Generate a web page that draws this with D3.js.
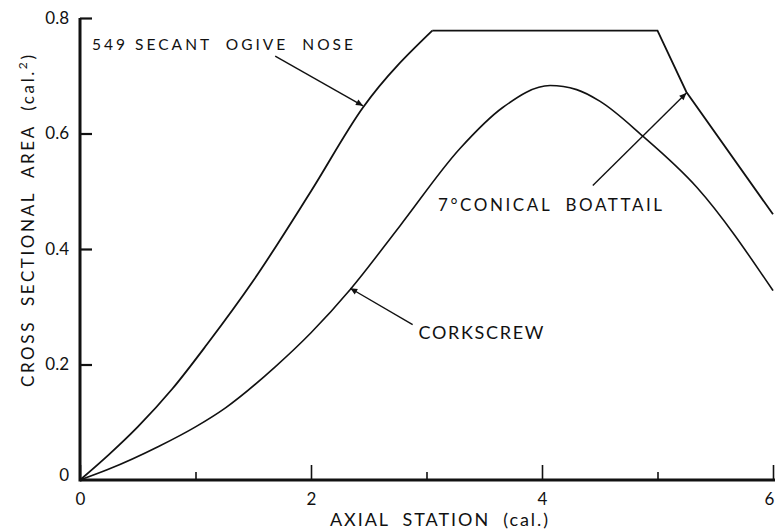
<!DOCTYPE html>
<html>
<head>
<meta charset="utf-8">
<script src="https://cdn.jsdelivr.net/npm/d3@7"></script>
<style>
  html, body { margin: 0; padding: 0; background: #fff; }
  svg text { font-family: Lato, "Open Sans", sans-serif; fill: #111; }
</style>
</head>
<body>
<svg id="chart" width="775" height="530"></svg>
<script>
// ---- data ----
const noseX = [0, 0.25, 0.5, 0.8, 1.1, 1.5, 2.0, 2.45, 3.05];
const noseY = [0, 0.044, 0.092, 0.158, 0.235, 0.345, 0.50, 0.645, 0.778];
const noseAftX = [3.05, 5.0, 5.25, 6.0];
const noseAftY = [0.778, 0.778, 0.672, 0.46];
const corkX = [0, 0.24, 0.68, 1.0, 1.26, 1.69, 2.0, 2.34, 2.77, 3.29, 3.66, 4.07, 4.3, 4.5, 4.87, 5.34, 6.0];
const corkY = [0, 0.018, 0.058, 0.092, 0.125, 0.196, 0.255, 0.33, 0.44, 0.574, 0.645, 0.683, 0.676, 0.656, 0.596, 0.507, 0.328];
const xTicks = [0, 1, 2, 3, 4, 5, 6];
const xTickLabels = ["0", "", "2", "", "4", "", "6"];
const yTicks = [0, 0.2, 0.4, 0.6, 0.8];
const yTickLabels = ["0", "0.2", "0.4", "0.6", "0.8"];
const labels = ["549 SECANT  OGIVE  NOSE", "7°CONICAL  BOATTAIL", "CORKSCREW"];
const labelPos = [[0.104, 0.745], [3.10, 0.465], [2.93, 0.245]];
const labelWidths = [261, 224, 125];
const labelSizes = [15.5, 17, 18];
const arrowFrom = [[1.69, 0.734], [4.44, 0.51], [2.88, 0.269]];
const arrowTo = [[2.45, 0.648], [5.25, 0.67], [2.34, 0.332]];

// ---- layout ----
const svg = d3.select("#chart");
const x = d3.scaleLinear().domain([0, 6]).range([80, 773]);
const y = d3.scaleLinear().domain([0, 0.8]).range([480, 18]);

svg.append("defs").append("marker")
  .attr("id", "arr").attr("viewBox", "0 0 10 10")
  .attr("refX", 10).attr("refY", 5)
  .attr("markerWidth", 10).attr("markerHeight", 7)
  .attr("markerUnits", "userSpaceOnUse")
  .attr("orient", "auto")
  .append("path").attr("d", "M0,0.5 L10,5 L0,9.5 Z").attr("fill", "#111");

// axes
const xAxis = svg.append("g").attr("transform", `translate(0,${y(0)})`)
  .call(d3.axisBottom(x).tickValues(xTicks).tickSize(0).tickFormat((d, i) => xTickLabels[i]));
xAxis.select(".domain").attr("stroke", "#111").attr("stroke-width", 3).attr("d", `M${x(0)},0H775`);
xAxis.selectAll(".tick text").attr("font-size", 17).attr("dy", 0).attr("y", 25)
  .attr("dx", d => d === 6 ? -4 : 0);
xAxis.selectAll(".tick").append("line")
  .attr("y1", 0).attr("y2", (d, i) => i % 2 === 0 ? -15 : -8)
  .attr("stroke", "#111").attr("stroke-width", 1.6);

const yAxis = svg.append("g").attr("transform", `translate(${x(0)},0)`)
  .call(d3.axisLeft(y).tickValues(yTicks).tickSize(0).tickFormat((d, i) => yTickLabels[i]));
yAxis.select(".domain").attr("stroke", "#111").attr("stroke-width", 3).attr("d", `M0,${y(0.8)}V${y(0) + 1.5}`);
yAxis.selectAll(".tick text").attr("font-size", 17).attr("x", -11)
  .attr("dy", d => d === 0 ? "0.05em" : "0.32em");
yAxis.selectAll(".tick").filter(d => d > 0).append("line")
  .attr("x1", 0).attr("x2", 12)
  .attr("stroke", "#111").attr("stroke-width", 2.2);

// curves
const lineCurved = d3.line().x(d => x(d[0])).y(d => y(d[1])).curve(d3.curveMonotoneX);
const lineStraight = d3.line().x(d => x(d[0])).y(d => y(d[1]));
svg.append("path").datum(noseX.map((v, i) => [v, noseY[i]]))
  .attr("d", lineCurved).attr("fill", "none").attr("stroke", "#111").attr("stroke-width", 1.8);
svg.append("path").datum(noseAftX.map((v, i) => [v, noseAftY[i]]))
  .attr("d", lineStraight).attr("fill", "none").attr("stroke", "#111").attr("stroke-width", 1.8)
  .attr("stroke-linejoin", "miter");
svg.append("path").datum(corkX.map((v, i) => [v, corkY[i]]))
  .attr("d", lineCurved).attr("fill", "none").attr("stroke", "#111").attr("stroke-width", 1.6);

// annotations
labels.forEach((t, i) => {
  svg.append("text").attr("x", x(labelPos[i][0])).attr("y", y(labelPos[i][1]))
    .attr("font-size", labelSizes[i]).attr("textLength", labelWidths[i]).attr("lengthAdjust", "spacing")
    .style("white-space", "pre").text(t);
  svg.append("line")
    .attr("x1", x(arrowFrom[i][0])).attr("y1", y(arrowFrom[i][1]))
    .attr("x2", x(arrowTo[i][0])).attr("y2", y(arrowTo[i][1]))
    .attr("stroke", "#111").attr("stroke-width", 1.4).attr("marker-end", "url(#arr)");
});

// axis titles
svg.append("text").attr("x", 439).attr("y", 526).attr("text-anchor", "middle")
  .attr("font-size", 18).attr("textLength", 218).attr("lengthAdjust", "spacing")
  .style("white-space", "pre").text("AXIAL  STATION  (cal.)");
const yt = svg.append("text").attr("transform", "translate(34,221) rotate(-90)")
  .attr("text-anchor", "middle").attr("font-size", 17)
  .attr("textLength", 332).attr("lengthAdjust", "spacing");
yt.append("tspan").text("CROSS  SECTIONAL  AREA  (cal.").style("white-space", "pre");
yt.append("tspan").attr("dy", -7).attr("font-size", 12).text("2");
yt.append("tspan").attr("dy", 7).text(")");
</script>
</body>
</html>
